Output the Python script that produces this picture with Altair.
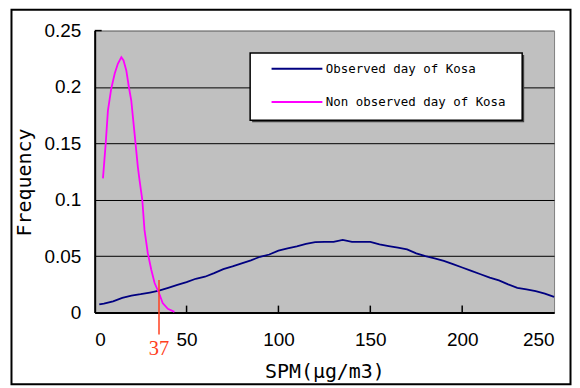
import altair as alt
import pandas as pd

# ---------------- data ----------------
series_names = ["Observed day of Kosa", "Non observed day of Kosa"]
series_colors = ["#000080", "#FF00FF"]

obs_spm = [2.5, 5, 10, 15, 20, 25, 30, 35, 40, 45, 50, 55, 60, 65, 70, 75, 80, 85, 90, 95,
           100, 105, 110, 115, 120, 125, 130, 135, 140, 145, 150, 155, 160, 165, 170, 175,
           180, 185, 190, 195, 200, 205, 210, 215, 220, 225, 230, 235, 240, 245, 250]
obs_freq = [0.0073, 0.0080, 0.0100, 0.0130, 0.0150, 0.0163, 0.0178, 0.0194, 0.0220, 0.0245,
            0.0270, 0.0300, 0.0318, 0.0350, 0.0385, 0.0410, 0.0437, 0.0463, 0.0495, 0.0515,
            0.0550, 0.0570, 0.0588, 0.0610, 0.0625, 0.0627, 0.0627, 0.0645, 0.0627, 0.0627,
            0.0627, 0.0605, 0.0590, 0.0575, 0.0560, 0.0525, 0.0500, 0.0480, 0.0458, 0.0430,
            0.0400, 0.0370, 0.0340, 0.0310, 0.0285, 0.0250, 0.0220, 0.0205, 0.0190, 0.0168,
            0.0139]

non_spm = [4.5, 6.0, 7.2, 9.0, 10.9, 12.6, 14.5, 15.7, 17.2, 18.6, 19.9, 21.7, 23.5, 24.4,
           25.9, 27.1, 28.9, 30.8, 32.6, 35.0, 37.0, 39.8, 43.4]
non_freq = [0.119, 0.150, 0.179, 0.1985, 0.212, 0.2206, 0.2264, 0.2235, 0.2147, 0.200,
            0.188, 0.1587, 0.129, 0.1175, 0.100, 0.0733, 0.0527, 0.038, 0.0262, 0.0174,
            0.0085, 0.0033, 0.0006]

x_ticks = [0, 50, 100, 150, 200, 250]
y_ticks = [0, 0.05, 0.1, 0.15, 0.2, 0.25]

marker_pos = 35          # position of the crossing marker on the SPM axis
marker_top = 0.029       # frequency where the marker line starts
marker_label = "37"

x_title = "SPM(μg/m3)"
y_title = "Frequency"

# ---------------- tables ----------------
rows = []
for i, (s, f) in enumerate(zip(obs_spm, obs_freq)):
    rows.append({"series": series_names[0], "spm": s, "freq": f, "idx": i})
for i, (s, f) in enumerate(zip(non_spm, non_freq)):
    rows.append({"series": series_names[1], "spm": s, "freq": f, "idx": i})
df = pd.DataFrame(rows)

W, H = 461, 283

xscale = alt.Scale(domain=[0, 250], nice=False)
yscale = alt.Scale(domain=[0, 0.25], nice=False)

x_enc = alt.X("spm:Q", scale=xscale, axis=alt.Axis(
    values=x_ticks, format="d", title=x_title, grid=False, ticks=False, tickSize=0,
    labelPadding=18, labelFont="Liberation Sans", labelFontSize=19, labelColor="black",
    domainColor="black", domainWidth=2,
    titleFont="DejaVu Sans Mono", titleFontSize=20, titleFontWeight="normal",
    titleColor="black", titleX=W / 2, titleY=59, titleBaseline="middle", titleAlign="center"))
y_enc = alt.Y("freq:Q", scale=yscale, axis=alt.Axis(
    values=y_ticks, format=".2~f", title=y_title, grid=True,
    gridColor={"condition": {"test": "datum.value >= 0.25", "value": "#808080"}, "value": "black"},
    gridWidth=1, ticks=False, tickSize=0,
    labelPadding=14, labelFont="Liberation Sans", labelFontSize=19, labelColor="black",
    domainColor="black", domainWidth=2,
    titleFont="DejaVu Sans Mono", titleFontSize=20, titleFontWeight="normal",
    titleColor="black", titleAngle=270, titleX=-70, titleY=152,
    titleAlign="center", titleBaseline="middle"))

lines = alt.Chart(df).mark_line(strokeWidth=1.8).encode(
    x=x_enc, y=y_enc,
    color=alt.Color("series:N", scale=alt.Scale(domain=series_names, range=series_colors),
                    legend=None),
    order="idx:Q",
)

# inside ticks
xt = pd.DataFrame({"spm": x_ticks[1:-1]})
x_tick_marks = alt.Chart(xt).mark_rule(color="black", strokeWidth=1.5).encode(
    x="spm:Q", y=alt.value(H - 7), y2=alt.value(H))
yt = pd.DataFrame({"freq": [0.25]})
y_tick_marks = alt.Chart(yt).mark_rule(color="black", strokeWidth=1.5).encode(
    y="freq:Q", x=alt.value(0), x2=alt.value(7))

# crossing marker
mk = pd.DataFrame({"spm": [marker_pos], "freq": [marker_top], "label": [marker_label]})
marker_rule = alt.Chart(mk).mark_rule(color="#FF4020", strokeWidth=1.5, clip=False).encode(
    x="spm:Q", y="freq:Q", y2=alt.value(305))
marker_text = alt.Chart(mk).mark_text(color="#FF4020", font="Liberation Serif", fontSize=20.5,
                                      baseline="middle", align="center").encode(
    x="spm:Q", y=alt.value(320), text="label:N")

# legend box
legend_box = alt.Chart(pd.DataFrame({"a": [0]})).mark_rect(
    fill="white", stroke="black", strokeWidth=1.5).encode(
    x=alt.value(156), x2=alt.value(429), y=alt.value(22.5), y2=alt.value(90))
legend_shadow = alt.Chart(pd.DataFrame({"a": [0]})).mark_rect(
    fill="#404040").encode(
    x=alt.value(158), x2=alt.value(431), y=alt.value(24.5), y2=alt.value(92))
legend_layers = [legend_shadow, legend_box]
for name, col, ly in zip(series_names, series_colors, [38.3, 71.7]):
    ld = pd.DataFrame({"label": [name]})
    legend_layers.append(alt.Chart(ld).mark_rule(color=col, strokeWidth=2).encode(
        x=alt.value(177.5), x2=alt.value(228.5), y=alt.value(ly)))
    legend_layers.append(alt.Chart(ld).mark_text(
        font="DejaVu Sans Mono", fontSize=12.5, color="black", align="left",
        baseline="middle").encode(x=alt.value(232), y=alt.value(ly), text="label:N"))

# outer frame
frame = alt.Chart(pd.DataFrame({"a": [0]})).mark_rect(
    fill=None, stroke="black", strokeWidth=2, clip=False).encode(
    x=alt.value(-83.5), x2=alt.value(477.5), y=alt.value(-21), y2=alt.value(355))

chart = alt.layer(
    lines, x_tick_marks, y_tick_marks, marker_rule, marker_text,
    *legend_layers, frame
).properties(
    width=W, height=H,
    autosize=alt.AutoSizeParams(type="none"),
    padding={"left": 87, "top": 22, "right": 18, "bottom": 74},
    background="white",
).configure_view(
    fill="#C0C0C0", stroke="#808080", strokeWidth=1
)

chart.save("out.html", embed_options={"renderer": "svg", "actions": False})
